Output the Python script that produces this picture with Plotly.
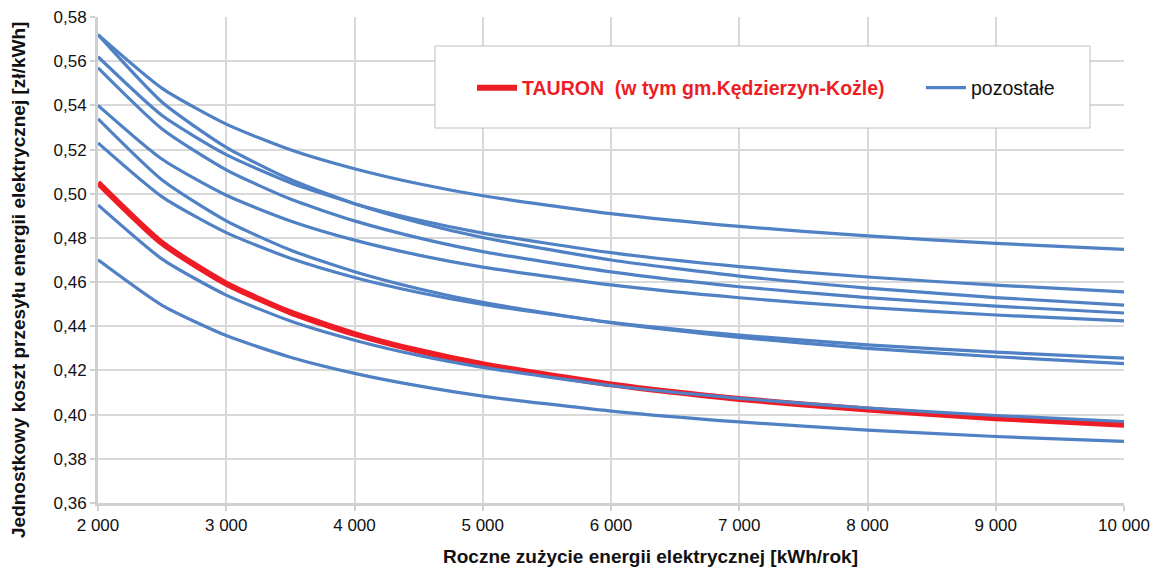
import plotly.graph_objects as go

# Annual consumption [kWh/year]
consumption = [2000, 2500, 3000, 3500, 4000, 4500, 5000, 6000, 7000, 8000, 9000, 10000]

# Unit transmission cost [zł/kWh] – TAURON (incl. gm. Kędzierzyn-Koźle)
tauron = [0.505, 0.4776, 0.4593, 0.4463, 0.4365, 0.4289, 0.4228, 0.4137, 0.4071, 0.4023, 0.3984, 0.3954]

# Unit transmission cost [zł/kWh] – other operators
other_1 = [0.572, 0.5477, 0.5315, 0.5199, 0.5113, 0.5045, 0.4991, 0.4910, 0.4852, 0.4809, 0.4775, 0.4748]
other_2 = [0.572, 0.5414, 0.5210, 0.5064, 0.4955, 0.4870, 0.4802, 0.4700, 0.4627, 0.4573, 0.4530, 0.4496]
other_3 = [0.562, 0.5354, 0.5177, 0.5050, 0.4955, 0.4881, 0.4822, 0.4733, 0.4670, 0.4623, 0.4586, 0.4556]
other_4 = [0.557, 0.5293, 0.5108, 0.4976, 0.4877, 0.4800, 0.4738, 0.4646, 0.4579, 0.4530, 0.4491, 0.4460]
other_5 = [0.540, 0.5156, 0.4993, 0.4877, 0.4790, 0.4722, 0.4668, 0.4587, 0.4529, 0.4485, 0.4451, 0.4424]
other_6 = [0.5339, 0.5062, 0.4877, 0.4745, 0.4647, 0.4570, 0.4508, 0.4416, 0.4350, 0.4300, 0.4262, 0.4231]
other_7 = [0.523, 0.4986, 0.4824, 0.4708, 0.4621, 0.4553, 0.4499, 0.4418, 0.4360, 0.4316, 0.4283, 0.4256]
other_8 = [0.4949, 0.4704, 0.4541, 0.4424, 0.4337, 0.4268, 0.4214, 0.4132, 0.4074, 0.4030, 0.3996, 0.3969]
other_9 = [0.4701, 0.4495, 0.4358, 0.4260, 0.4187, 0.4130, 0.4084, 0.4016, 0.3967, 0.3930, 0.3901, 0.3879]

others = [other_1, other_2, other_3, other_4, other_5, other_6, other_7, other_8, other_9]

RED = "#EE1D25"
BLUE = "#4F81C4"
GRID = "#D9D9D9"
INK = "#111111"
FONT = "Liberation Sans, Arial, sans-serif"

# plot-area geometry in pixels (used to place paper-referenced items)
L, R, T, B = 98, 1124, 17, 503
W, H = R - L, B - T


def px_x(p):
    return (p - L) / W


def px_y(p):
    return (B - p) / H


fig = go.Figure()

fig.add_trace(go.Scatter(
    x=consumption, y=tauron, mode="lines",
    name='<span style="color:%s"><b>TAURON  (w tym gm.Kędzierzyn-Kożle)</b></span>' % RED,
    line=dict(color=RED, width=6, shape="spline", smoothing=0.6),
    legend="legend",
))

for i, series in enumerate(others):
    fig.add_trace(go.Scatter(
        x=consumption, y=series, mode="lines",
        name="pozostałe", legendgroup="other",
        showlegend=(i == 0),
        line=dict(color=BLUE, width=3.2, shape="spline", smoothing=0.6),
        legend="legend2",
    ))

# legend frame
fig.add_shape(type="rect", xref="paper", yref="paper",
              x0=px_x(435), x1=px_x(1090), y0=px_y(128), y1=px_y(46),
              line=dict(color="#BFBFBF", width=1), fillcolor="white", layer="above")

legend_common = dict(
    orientation="h", xanchor="left", yanchor="middle",
    bgcolor="rgba(0,0,0,0)", borderwidth=0, itemwidth=40,
    font=dict(family=FONT, size=19.5, color=INK),
)

tick_font = dict(family=FONT, size=17, color=INK)

fig.update_layout(
    width=1151, height=570,
    margin=dict(l=L, r=1151 - R, t=T, b=570 - B),
    paper_bgcolor="white", plot_bgcolor="white",
    separators=", ",
    font=dict(family=FONT, size=17, color=INK),
    showlegend=True,
    legend=dict(x=px_x(472), y=px_y(88), **legend_common),
    legend2=dict(x=px_x(921), y=px_y(88), **legend_common),
    xaxis=dict(
        range=[2000, 10000], dtick=1000, tick0=2000, tickformat=",",
        showgrid=True, gridcolor=GRID, gridwidth=2,
        showline=True, linecolor="#D0D0D0", linewidth=3,
        ticks="outside", ticklen=5, tickcolor="#D0D0D0", tickwidth=2,
        tickfont=tick_font, zeroline=False, fixedrange=True,
        ticklabeloverflow="allow", automargin=False,
    ),
    yaxis=dict(
        range=[0.36, 0.58], dtick=0.02, tick0=0.36, tickformat=".2f",
        showgrid=True, gridcolor=GRID, gridwidth=2,
        showline=True, linecolor="#D0D0D0", linewidth=3,
        ticks="outside", ticklen=5, tickcolor="#D0D0D0", tickwidth=2,
        tickfont=tick_font, zeroline=False, fixedrange=True,
        ticklabeloverflow="allow", automargin=False,
    ),
    annotations=[
        dict(text="<b>Roczne zużycie energii elektrycznej [kWh/rok]</b>",
             xref="paper", yref="paper", x=px_x(650), y=px_y(556),
             xanchor="center", yanchor="middle", showarrow=False,
             font=dict(family=FONT, size=19, color=INK)),
        dict(text="<b>Jednostkowy koszt przesyłu energii elektrycznej [zł/kWh]</b>",
             xref="paper", yref="paper", x=px_x(18), y=px_y(280),
             xanchor="center", yanchor="middle", textangle=-90, showarrow=False,
             font=dict(family=FONT, size=19, color=INK)),
    ],
)

fig.write_html("out.html")
